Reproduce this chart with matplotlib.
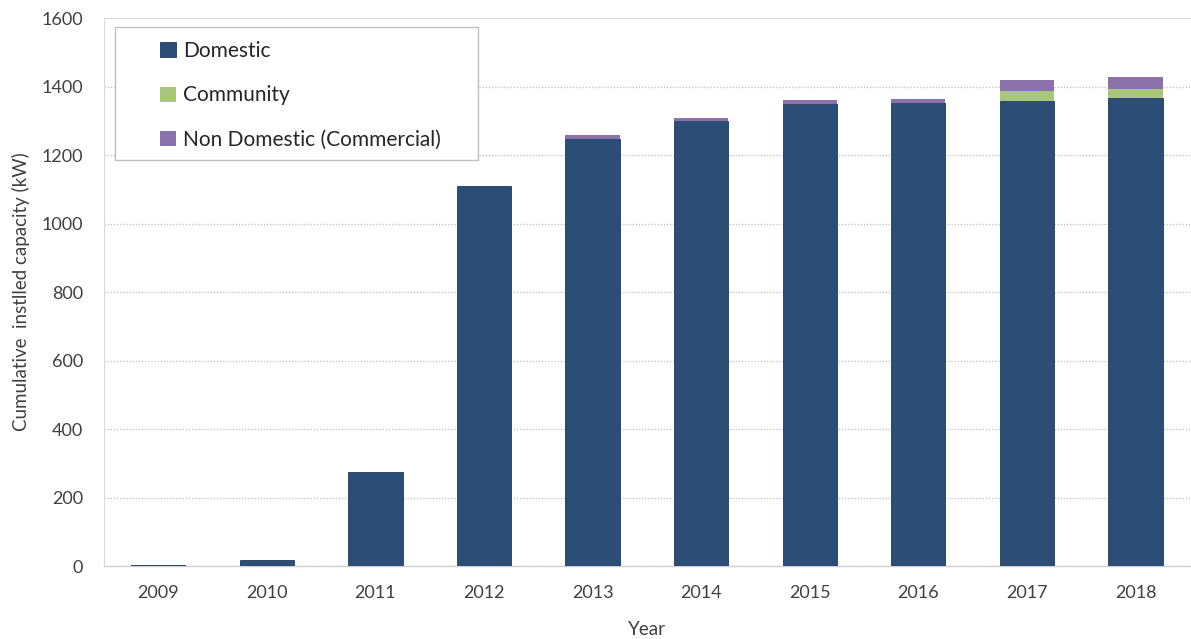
import numpy as np
import matplotlib.pyplot as plt
from matplotlib.patches import Rectangle

years = ['2009', '2010', '2011', '2012', '2013', '2014', '2015', '2016', '2017', '2018']
domestic = [4, 17, 275, 1110, 1248, 1298, 1349, 1353, 1359, 1366]
community = [0, 0, 0, 0, 0, 0, 0, 0, 27, 28]
non_domestic = [0, 0, 0, 0, 10, 11, 11, 10, 34, 35]

plt.rcParams['font.family'] = ['Lato', 'DejaVu Sans']

fig = plt.figure(figsize=(11.91, 6.39), dpi=100)
ax = fig.add_axes([0.0873, 0.1142, 0.9117, 0.8576])

x = np.arange(len(years))
w = 0.5
dom = np.array(domestic)
com = np.array(community)
nd = np.array(non_domestic)

ax.bar(x, dom, w, color='#2C4D75', edgecolor='#1F3A5C', linewidth=0.6, label='Domestic', zorder=3)
ax.bar(x, com, w, bottom=dom, color='#A9C77A', linewidth=0, label='Community', zorder=3)
ax.bar(x, nd, w, bottom=dom + com, color='#8B72AB', linewidth=0, label='Non Domestic (Commercial)', zorder=3)

ax.set_xlim(-0.5, len(years) - 0.5)
ax.set_ylim(0, 1600)
ax.set_yticks(range(0, 1601, 200))
ax.set_xticks(x)
ax.set_xticklabels(years)
ax.tick_params(axis='both', length=0, labelsize=13, colors='#404040')
ax.tick_params(axis='x', pad=14)
ax.tick_params(axis='y', pad=15)
ax.yaxis.grid(True, linestyle=(0, (1, 1.5)), color='#BFBFBF', linewidth=0.9, zorder=0)

for side in ['top', 'left']:
    ax.spines[side].set_color('#D9D9D9')
    ax.spines[side].set_linewidth(0.8)
ax.spines['right'].set_visible(False)
ax.spines['bottom'].set_color('#D0D0D0')
ax.spines['bottom'].set_linewidth(1.0)

ax.set_xlabel('Year', fontsize=13.5, color='#404040', labelpad=14)
ax.set_ylabel('Cumulative  instlled capacity (kW)', fontsize=13.5, color='#404040', labelpad=8)

# legend box drawn separately so it can have uneven padding
ax.add_patch(Rectangle((0.0101, 0.7409), 0.3343, 0.2427, transform=ax.transAxes,
                       facecolor='white', edgecolor='#BFBFBF', linewidth=1.0, zorder=4))
leg = ax.legend(loc='upper left', bbox_to_anchor=(0.0516, 0.958), fontsize=15, frameon=False,
                handlelength=0.75, handleheight=0.75, labelspacing=1.17, borderpad=0,
                handletextpad=0.35, borderaxespad=0)
leg.set_zorder(5)
for t in leg.get_texts():
    t.set_color('#262626')

fig.savefig('out.png', dpi=100)
